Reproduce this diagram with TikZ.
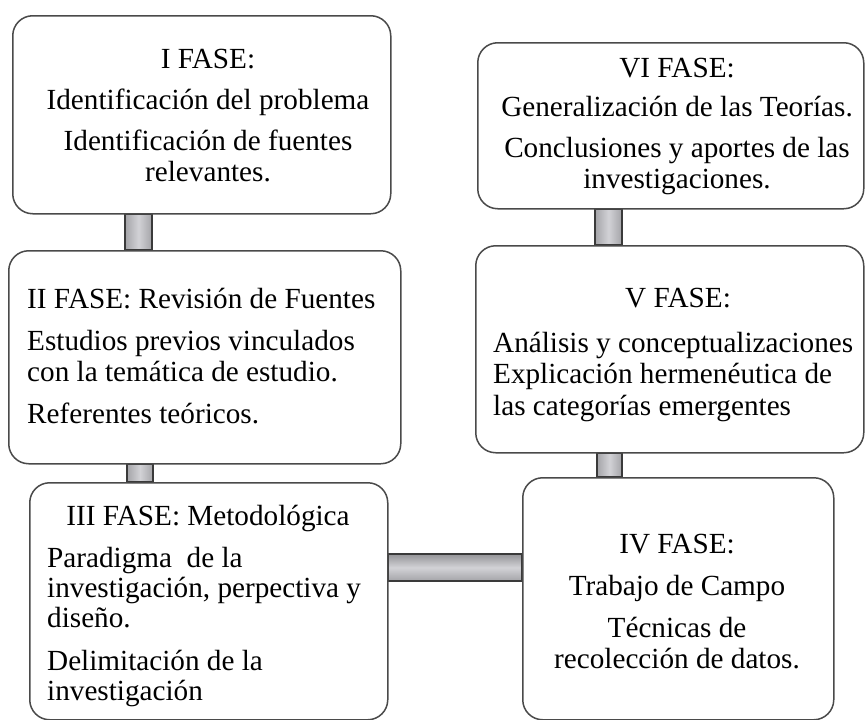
\documentclass[tikz,border=0pt]{standalone}
\usepackage{fontspec}
\setmainfont{Liberation Serif}
\usetikzlibrary{backgrounds}
\definecolor{boxline}{HTML}{4A4A4A}
\definecolor{barline}{HTML}{3A3A3A}
\definecolor{baredge}{HTML}{A4A4A8}
\definecolor{barmid}{HTML}{D2D2D6}
\tikzset{
  phasebox/.style={draw=boxline, line width=1.5pt, fill=white, rounded corners=20pt,
    rectangle, inner sep=0pt, anchor=north west},
  vbar/.style={draw=barline, line width=1.2pt, left color=baredge, right color=baredge, middle color=barmid},
  hbar/.style={draw=barline, line width=1.2pt, top color=baredge!90!black, bottom color=baredge, middle color=barmid},
  ctxt/.style={inner sep=0pt, anchor=base, font=\fontsize{29.2}{30}\selectfont},
  ltxt/.style={inner sep=0pt, anchor=base west, font=\fontsize{29.2}{30}\selectfont}
}
\begin{document}
\begin{tikzpicture}[x=1pt,y=-1pt]
\useasboundingbox (0,0) rectangle (865,720);
% boxes
\node[phasebox, minimum width=378pt, minimum height=198pt] (b1) at (12,15) {};
\node[phasebox, minimum width=392pt, minimum height=213pt] (b2) at (8,250) {};
\node[phasebox, minimum width=358pt, minimum height=237pt] (b3) at (29,482) {};
\node[phasebox, minimum width=311pt, minimum height=242pt] (b4) at (522,477) {};
\node[phasebox, minimum width=388pt, minimum height=207pt] (b5) at (475,245) {};
\node[phasebox, minimum width=386pt, minimum height=166pt] (b6) at (477,42) {};
% connectors
\begin{pgfonlayer}{background}
\fill[white] (0,0) rectangle (865,720);
\path[vbar] ([xshift=113pt]b1.south west) rectangle ([xshift=140pt]b1.south west |- b2.north);
\path[vbar] ([xshift=119pt]b2.south west) rectangle ([xshift=145pt]b2.south west |- b3.north);
\path[vbar] ([xshift=118pt]b6.south west) rectangle ([xshift=145pt]b6.south west |- b5.north);
\path[vbar] ([xshift=122pt]b5.south west) rectangle ([xshift=147pt]b5.south west |- b4.north);
\path[hbar] ([yshift=-72pt]b3.north east) rectangle ([yshift=-99pt]b3.north east -| b4.west);
\end{pgfonlayer}
% texts box I
\node[ctxt] (t11) at (208,68) {I FASE:};
\node[ctxt] (t12) at (208,109) {Identificación del problema};
\node[ctxt] (t13) at (208,150) {Identificación de fuentes};
\node[ctxt] (t14) at (208,181) {relevantes.};
% box II
\node[ltxt] (t21) at (27,308) {II FASE: Revisión de Fuentes};
\node[ltxt] (t22) at (27,350) {Estudios previos vinculados};
\node[ltxt] (t23) at (27,381) {con la temática de estudio.};
\node[ltxt] (t24) at (27,423) {Referentes teóricos.};
% box III
\node[ctxt] (t31) at (208,525) {III FASE: Metodológica};
\node[ltxt] (t32) at (47,567) {Paradigma\ \ de la};
\node[ltxt] (t33) at (47,597) {investigación, perpectiva y};
\node[ltxt] (t34) at (47,627) {diseño.};
\node[ltxt] (t35) at (47,670) {Delimitación de la};
\node[ltxt] (t36) at (47,700) {investigación};
% box IV
\node[ctxt] (t41) at (677,553) {IV FASE:};
\node[ctxt] (t42) at (677,595) {Trabajo de Campo};
\node[ctxt] (t43) at (677,637) {Técnicas de};
\node[ctxt] (t44) at (677,668) {recolección de datos.};
% box V
\node[ctxt] (t51) at (678,307) {V FASE:};
\node[ltxt] (t52) at (493,352) {Análisis y conceptualizaciones};
\node[ltxt] (t53) at (493,383) {Explicación hermenéutica de};
\node[ltxt] (t54) at (493,415) {las categorías emergentes};
% box VI
\node[ctxt] (t61) at (677,77) {VI FASE:};
\node[ctxt] (t62) at (677,116) {Generalización de las Teorías.};
\node[ctxt] (t63) at (677,157) {Conclusiones y aportes de las};
\node[ctxt] (t64) at (677,188) {investigaciones.};
\end{tikzpicture}
\end{document}
